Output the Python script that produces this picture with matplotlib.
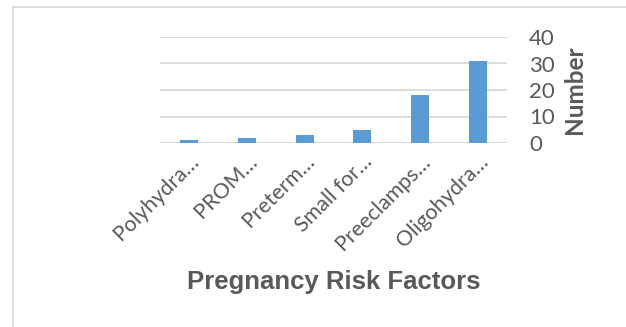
import matplotlib
matplotlib.use("Agg")
import matplotlib.pyplot as plt
from matplotlib.lines import Line2D

categories = ["Polyhydra…", "PROM…", "Preterm…", "Small for…", "Preeclamps…", "Oligohydra…"]
values = [1, 2, 3, 5, 18, 31]
y_ticks = [0, 10, 20, 30, 40]

gray_text = "#595959"
grid_col = "#d9d9d9"
bar_col = "#5b9bd5"

fig = plt.figure(figsize=(6.26, 3.27), dpi=100)
ax = fig.add_axes([160 / 626, 1 - 143 / 327, 347 / 626, 106 / 327])

x = range(len(categories))
ax.bar(x, values, width=0.31, color=bar_col, zorder=3)
ax.set_xlim(-0.5, len(categories) - 0.5)
ax.set_ylim(0, 40)
ax.set_yticks(y_ticks)
ax.yaxis.tick_right()
ax.yaxis.set_label_position("right")
ax.grid(axis="y", color=grid_col, linewidth=1.3, zorder=0)
for s in ["top", "left", "right", "bottom"]:
    ax.spines[s].set_visible(False)
ax.axhline(0, color=grid_col, linewidth=1.3, zorder=2)

ax.tick_params(axis="both", length=0)
ax.tick_params(axis="y", pad=16, labelsize=16, labelcolor=gray_text)
for t in ax.get_yticklabels():
    t.set_family(["Lato", "DejaVu Sans"])
    t.set_horizontalalignment("left")

ax.set_xticks(list(x))
ax.set_xticklabels(categories, rotation=45, ha="right", va="top",
                   rotation_mode="anchor", fontsize=15.5, color=gray_text,
                   family=["Lato", "DejaVu Sans"])
ax.tick_params(axis="x", pad=6)

ax.set_ylabel("Number", fontsize=17.5, fontweight="bold", color=gray_text,
              family=["Lato", "DejaVu Sans"], labelpad=6)
fig.text(334 / 626, 1 - 282 / 327, "Pregnancy Risk Factors", ha="center", va="center",
         fontsize=18.5, fontweight="bold", color=gray_text, family="Liberation Sans")

# chart frame, only the left and top edges show
fig.add_artist(Line2D([13 / 626, 13 / 626], [0, 1 - 7 / 327], color=grid_col, linewidth=1.3,
                      transform=fig.transFigure))
fig.add_artist(Line2D([13 / 626, 1], [1 - 7 / 327, 1 - 7 / 327], color=grid_col, linewidth=1.3,
                      transform=fig.transFigure))

fig.savefig("out.png", dpi=100)
